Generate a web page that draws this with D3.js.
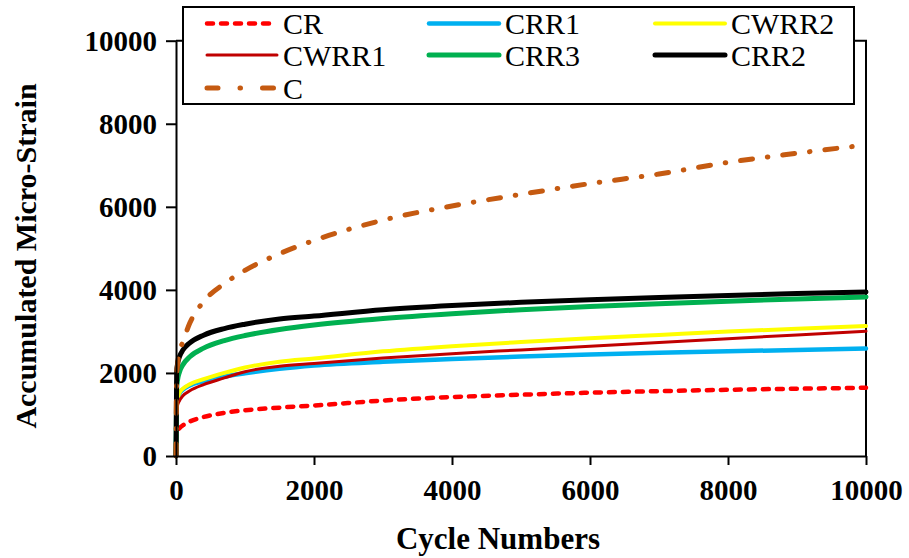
<!DOCTYPE html>
<html>
<head>
<meta charset="utf-8">
<script src="https://cdn.jsdelivr.net/npm/d3@7"></script>
<style>
  html, body { margin: 0; padding: 0; background: #fff; }
  svg { display: block; }
  text { font-family: "Liberation Serif", "Times New Roman", "DejaVu Serif", serif; fill: #000; }
</style>
</head>
<body>
<svg id="chart" width="909" height="558"></svg>
<script>
// Cycle counts at which accumulated strain was recorded
const cycles = [0, 10, 20, 50, 100, 200, 400, 700, 1000, 1500, 2000, 3000, 4000, 5000, 6000, 7000, 8000, 9000, 10000];

// Accumulated micro-strain per mixture
const CR    = [0, 560, 610, 670, 740, 830, 940, 1040, 1100, 1165, 1215, 1335, 1420, 1475, 1525, 1562, 1595, 1620, 1643];
const CRR1  = [0, 1250, 1370, 1500, 1600, 1700, 1800, 1910, 1990, 2100, 2180, 2270, 2335, 2395, 2445, 2485, 2520, 2555, 2588];
const CWRR2 = [0, 1250, 1360, 1520, 1620, 1730, 1850, 2000, 2130, 2270, 2350, 2520, 2645, 2745, 2835, 2915, 2995, 3065, 3133];
const CWRR1 = [0, 1100, 1200, 1330, 1450, 1570, 1720, 1880, 2030, 2160, 2230, 2360, 2465, 2555, 2645, 2735, 2825, 2915, 3005];
const CRR3  = [0, 1666, 1811, 2022, 2198, 2390, 2598, 2779, 2901, 3046, 3154, 3312, 3428, 3522, 3600, 3668, 3727, 3781, 3830];
const CRR2  = [0, 2051, 2190, 2389, 2551, 2725, 2910, 3069, 3174, 3299, 3370, 3523, 3625, 3700, 3763, 3818, 3867, 3910, 3950];
const C     = [0, 1900, 2150, 2500, 2750, 3200, 3720, 4150, 4470, 4870, 5190, 5680, 6020, 6300, 6560, 6790, 7070, 7290, 7490];

// Axis ticks
const xTicks = [0, 2000, 4000, 6000, 8000, 10000];
const yTicks = [0, 2000, 4000, 6000, 8000, 10000];

// Series in drawing / legend order
const series = [
  { name: "CR",    values: CR,    color: "#FF0000", width: 4.5, dash: "6,8" },
  { name: "CRR1",  values: CRR1,  color: "#00B0F0", width: 4.5, dash: null },
  { name: "CWRR2", values: CWRR2, color: "#FFFF00", width: 4,   dash: null },
  { name: "CWRR1", values: CWRR1, color: "#C00000", width: 3,   dash: null },
  { name: "CRR3",  values: CRR3,  color: "#00B050", width: 5,   dash: null },
  { name: "CRR2",  values: CRR2,  color: "#000000", width: 5,   dash: null },
  { name: "C",     values: C,     color: "#C55A11", width: 5,   dash: "12,15,0.5,15" }
];

const serif = '"Liberation Serif", "Times New Roman", "DejaVu Serif", serif';
const svg = d3.select("#chart");
const plotL = 176, plotR = 866, plotT = 40.7, plotB = 456;

const x = d3.scaleLinear().domain([0, 10000]).range([plotL, plotR]);
const y = d3.scaleLinear().domain([0, 10000]).range([plotB, plotT]);

// Plot frame (top and right edges)
svg.append("path")
  .attr("d", `M${plotL},${plotT}H${plotR}V${plotB}`)
  .attr("fill", "none").attr("stroke", "#000").attr("stroke-width", 2);

// Curves
const line = d3.line()
  .x((d, i) => x(cycles[i]))
  .y(d => y(d))
  .curve(d3.curveMonotoneX);

const plot = svg.append("g");
series.forEach(s => {
  plot.append("path")
    .datum(s.values)
    .attr("d", line)
    .attr("fill", "none")
    .attr("stroke", s.color)
    .attr("stroke-width", s.width)
    .attr("stroke-linecap", "round")
    .attr("stroke-linejoin", "round")
    .attr("stroke-dasharray", s.dash);
});

// Axes
const xAxis = svg.append("g")
  .attr("transform", `translate(0,${plotB})`)
  .call(d3.axisBottom(x).tickValues(xTicks).tickFormat(d3.format("d")).tickSize(9).tickSizeOuter(0));
const yAxis = svg.append("g")
  .attr("transform", `translate(${plotL},0)`)
  .call(d3.axisLeft(y).tickValues(yTicks).tickFormat(d3.format("d")).tickSize(10).tickSizeOuter(0));

[xAxis, yAxis].forEach(g => {
  g.attr("font-family", serif);
  g.select(".domain").attr("stroke", "#000").attr("stroke-width", 2);
  g.selectAll(".tick line").attr("stroke", "#000").attr("stroke-width", 2);
  g.selectAll(".tick text")
    .style("font-family", serif)
    .style("font-weight", "bold")
    .style("font-size", "29px")
    .attr("fill", "#000");
});
xAxis.selectAll(".tick text").attr("dy", null).attr("y", 44);
yAxis.selectAll(".tick text").attr("x", -19).attr("dy", "0.34em");

// Axis titles
svg.append("text")
  .attr("x", 498)
  .attr("y", 549)
  .attr("text-anchor", "middle")
  .style("font-family", serif)
  .style("font-weight", "bold")
  .style("font-size", "31px")
  .text("Cycle Numbers");

svg.append("text")
  .attr("transform", "translate(36,256) rotate(-90)")
  .attr("text-anchor", "middle")
  .style("font-family", serif)
  .style("font-weight", "bold")
  .style("font-size", "30px")
  .text("Accumulated Micro-Strain");

// Legend
const legend = svg.append("g");
legend.append("rect")
  .attr("x", 183).attr("y", 7).attr("width", 671).attr("height", 97)
  .attr("fill", "#fff").attr("stroke", "#000").attr("stroke-width", 2);

const colX = [207, 429, 655];
const rowY = [23.5, 55, 88];
series.forEach((s, i) => {
  const cx = colX[i % 3], cy = rowY[Math.floor(i / 3)];
  legend.append("line")
    .attr("x1", cx).attr("x2", cx + 70).attr("y1", cy).attr("y2", cy)
    .attr("stroke", s.color)
    .attr("stroke-width", s.width)
    .attr("stroke-linecap", "round")
    .attr("stroke-dasharray", s.name === "C" ? "11,22,0.5,22" : s.dash);
  legend.append("text")
    .attr("x", cx + 76).attr("y", cy + 10.5)
    .style("font-family", serif)
    .style("font-weight", "normal")
    .style("font-size", "30px")
    .text(s.name);
});
</script>
</body>
</html>
